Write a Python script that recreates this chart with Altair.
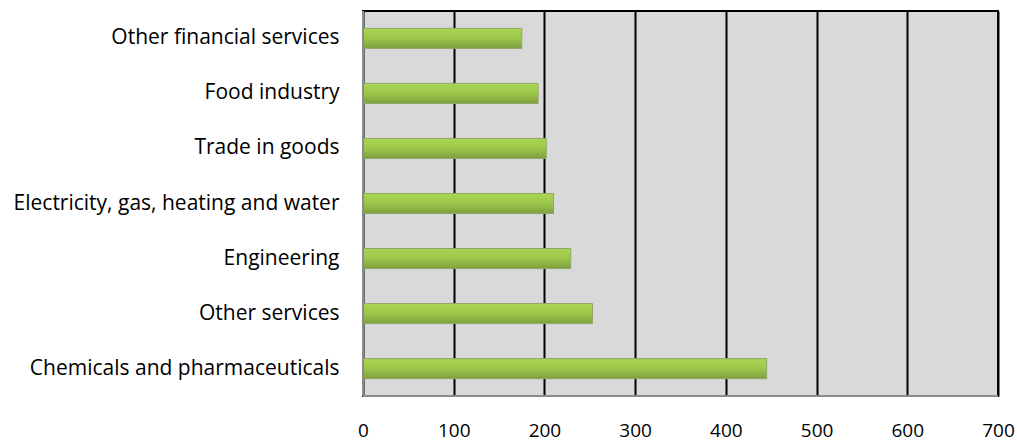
import altair as alt
import pandas as pd

categories = [
    "Other financial services",
    "Food industry",
    "Trade in goods",
    "Electricity, gas, heating and water",
    "Engineering",
    "Other services",
    "Chemicals and pharmaceuticals",
]
values = [175, 193, 202, 210, 229, 253, 445]
x_ticks = [0, 100, 200, 300, 400, 500, 600, 700]

df = pd.DataFrame({"category": categories, "value": values})

FONT = "Open Sans"

grad = alt.Gradient(
    gradient="linear",
    stops=[
        alt.GradientStop(color="#AAD652", offset=0),
        alt.GradientStop(color="#9CC64A", offset=0.5),
        alt.GradientStop(color="#7E9F3E", offset=1),
    ],
    x1=0, x2=0, y1=0, y2=1,
)

bars = alt.Chart(df).mark_bar(fill=grad, stroke="#8FA66A", strokeWidth=1).encode(
    x=alt.X(
        "value:Q",
        scale=alt.Scale(domain=[0, 700], nice=False, zero=True),
        axis=alt.Axis(
            values=x_ticks,
            title=None,
            grid=True,
            gridColor="#000000",
            gridWidth=2,
            gridOpacity=1,
            domain=False,
            ticks=False,
            labelFlush=False,
            labelFont=FONT,
            labelFontSize=19,
            labelColor="#000000",
            labelPadding=25,
        ),
    ),
    y=alt.Y(
        "category:N",
        sort=categories,
        scale=alt.Scale(paddingInner=0.636, paddingOuter=0.315),
        axis=alt.Axis(
            title=None,
            domain=False,
            ticks=False,
            grid=False,
            labelFont=FONT,
            labelFontSize=21,
            labelColor="#000000",
            labelPadding=24,
            labelLimit=400,
        ),
    ),
)

left_border = alt.Chart(df).mark_rule(color="#8C8C8C", strokeWidth=2).encode(
    x=alt.value(0), y=alt.value(0), y2=alt.value(385)
)
bottom_border = alt.Chart(df).mark_rule(color="#8C8C8C", strokeWidth=2).encode(
    y=alt.value(385), x=alt.value(0), x2=alt.value(635)
)

chart = (
    alt.layer(bars, left_border, bottom_border)
    .properties(
        width=635,
        height=385,
        autosize=alt.AutoSizeParams(type="none"),
        padding={"left": 363, "top": 11, "right": 19, "bottom": 47},
        background="#FFFFFF",
    )
    .configure_view(fill="#D9D9D9", stroke="#000000", strokeWidth=2)
)

chart.save("out.html", embed_options={"renderer": "svg", "actions": False})
